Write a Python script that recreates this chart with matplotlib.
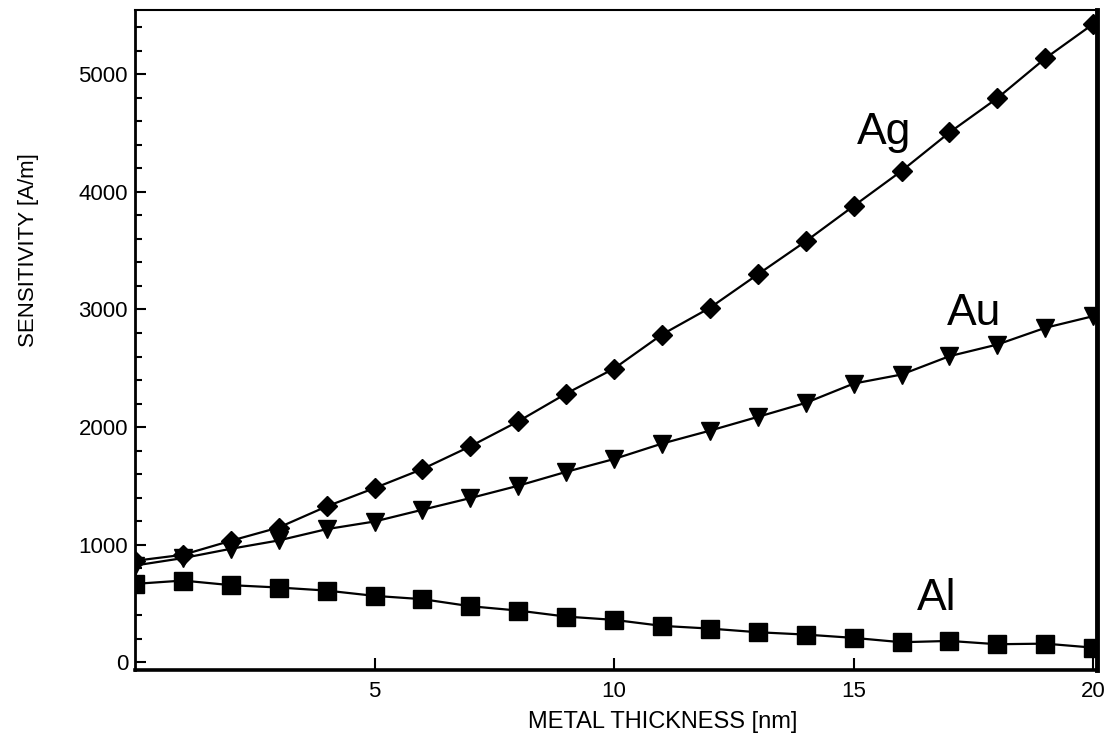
import matplotlib
matplotlib.use("Agg")
import matplotlib.pyplot as plt
from matplotlib.ticker import MultipleLocator

plt.rcParams['font.family'] = ['Liberation Sans', 'DejaVu Sans']

thickness = list(range(0, 21))
ag = [864, 915, 1034, 1147, 1326, 1482, 1644, 1837, 2049, 2285, 2498,
      2787, 3014, 3298, 3579, 3879, 4177, 4504, 4796, 5134, 5426]
au = [824, 887, 966, 1037, 1133, 1198, 1298, 1397, 1502, 1620, 1729,
      1860, 1970, 2087, 2206, 2370, 2447, 2603, 2702, 2844, 2943]
al = [668, 696, 657, 637, 611, 566, 538, 478, 441, 390, 362,
      311, 288, 257, 237, 209, 172, 183, 155, 160, 126]

labels = ["Ag", "Au", "Al"]
label_pos = [(15.63, 4404), (17.51, 2872), (16.73, 447)]

fig = plt.figure(figsize=(11.15, 7.48), dpi=100)
ax = fig.add_axes([135 / 1115, 1 - 670 / 748, (1097 - 135) / 1115, (670 - 10) / 748])

ax.plot(thickness, ag, color='black', lw=1.6, marker='D', ms=10, zorder=3)
ax.plot(thickness, au, color='black', lw=1.6, marker='v', ms=13.5, zorder=3)
ax.plot(thickness, al, color='black', lw=1.6, marker='s', ms=13.5, zorder=3)

for txt, (x, y) in zip(labels, label_pos):
    ax.text(x, y, txt, fontsize=32, ha='center', va='baseline')

ax.set_xlim(0, 20.08)
ax.set_ylim(-64, 5545)

ax.set_xticks([5, 10, 15, 20])
ax.yaxis.set_major_locator(MultipleLocator(1000))
ax.yaxis.set_minor_locator(MultipleLocator(200))

ax.tick_params(axis='both', which='both', direction='in', width=1.5, labelsize=16)
ax.tick_params(axis='y', which='major', length=8, pad=5)
ax.tick_params(axis='y', which='minor', length=5)
ax.tick_params(axis='x', which='major', length=9, pad=8)
ax.tick_params(top=False, right=False)

ax.spines['left'].set_linewidth(2)
ax.spines['top'].set_linewidth(1.5)
ax.spines['bottom'].set_linewidth(2.6)
ax.spines['right'].set_linewidth(3.5)
for s in ax.spines.values():
    s.set_zorder(4)

ax.set_xlabel("METAL THICKNESS [nm]", fontsize=17)
ax.set_ylabel("SENSITIVITY [A/m]", fontsize=16)
ax.xaxis.set_label_coords(0.549, -0.062)
ax.yaxis.set_label_coords(-0.100, 0.636)

fig.savefig("out.png", dpi=100)
